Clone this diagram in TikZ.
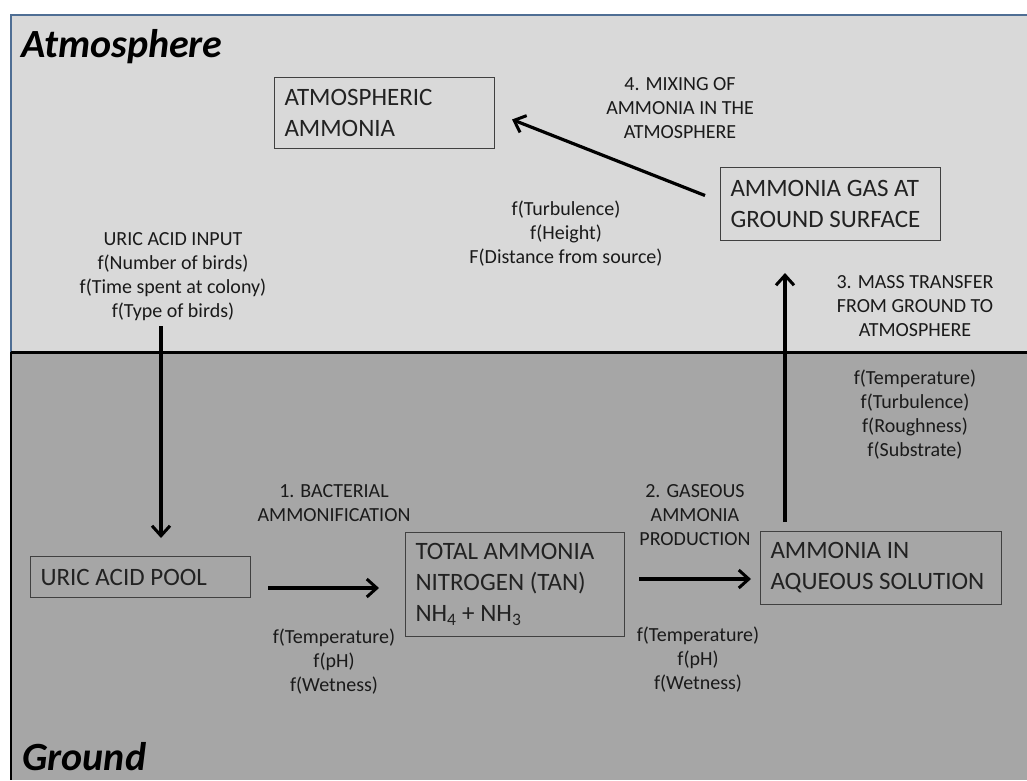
\documentclass[tikz,border=0pt]{standalone}
\usepackage{fontspec}
\setmainfont{Carlito}
\usetikzlibrary{arrows.meta,calc}
\definecolor{atmo}{HTML}{D9D9D9}
\definecolor{grnd}{HTML}{A6A6A6}
\definecolor{frameblue}{HTML}{4F6E94}
\definecolor{boxline}{HTML}{404040}
\definecolor{boxtxt}{HTML}{222222}
\definecolor{lbltxt}{HTML}{1A1A1A}
\begin{document}
\begin{tikzpicture}[x=1pt,y=-1pt,
  box/.style={draw=boxline, line width=1pt, anchor=north west, inner xsep=10pt, inner ysep=0pt,
    align=flush left, text=boxtxt, font=\fontsize{25}{31}\selectfont},
  lbl/.style={align=flush center, anchor=base, inner sep=0pt, text=lbltxt, font=\fontsize{20}{24}\selectfont},
  zone/.style={anchor=base west, inner sep=0pt, text=black, font=\fontsize{40}{48}\selectfont\bfseries\itshape},
  arr/.style={line width=3.2pt, -{Straight Barb[length=10pt,width=18pt,line width=3pt]}}]
\useasboundingbox (0,0) rectangle (1027,780);
\fill[white] (0,0) rectangle (1027,780);
\fill[atmo] (11,15) rectangle (1027,352);
\fill[grnd] (11,352) rectangle (1027,780);
\draw[frameblue, line width=2pt] (11,352) -- (11,15) -- (1027,15);
\draw[black, line width=2pt] (11,352) -- (11,780);
\draw[black, line width=3pt] (11,352) -- (1027,352);

\node[zone] (atmT) at (21,57) {Atmosphere};
\node[zone] (grT) at (22,770) {Ground};

\node[box, text width=200pt, minimum height=71pt] (atm) at (274,77) {ATMOSPHERIC\\AMMONIA};
\node[box, text width=200pt, minimum height=73pt] (gas) at (720,167) {AMMONIA GAS AT\\GROUND SURFACE};
\node[box, text width=200pt, minimum height=41pt] (pool) at (30,556) {URIC ACID POOL};
\node[box, text width=199pt, minimum height=104pt] (tan) at (405,532) {TOTAL AMMONIA\\NITROGEN (TAN)\\NH\textsubscript{4} + NH\textsubscript{3}};
\node[box, text width=221pt, minimum height=73pt] (aq) at (760,531) {AMMONIA IN\\AQUEOUS SOLUTION};

\node[lbl] (input) at (173,317) {URIC ACID INPUT\\f(Number of birds)\\f(Time spent at colony)\\f(Type of birds)};
\node[lbl] (mix) at (680,138) {4. MIXING OF\\AMMONIA IN THE\\ATMOSPHERE};
\node[lbl] (turb) at (566,263) {f(Turbulence)\\f(Height)\\F(Distance from source)};
\node[lbl] (mass) at (915,336) {3. MASS TRANSFER\\FROM GROUND TO\\ATMOSPHERE};
\node[lbl] (massf) at (915,456) {f(Temperature)\\f(Turbulence)\\f(Roughness)\\f(Substrate)};
\node[lbl] (bact) at (334,521) {1. BACTERIAL\\AMMONIFICATION};
\node[lbl] (bactf) at (334,691) {f(Temperature)\\f(pH)\\f(Wetness)};
\node[lbl] (gasp) at (695,545) {2. GASEOUS\\AMMONIA\\PRODUCTION};
\node[lbl] (gaspf) at (698,689) {f(Temperature)\\f(pH)\\f(Wetness)};

\coordinate (xin) at (161,0);
\coordinate (x3) at (785,0);
\coordinate (y1) at (0,588);
\coordinate (y2) at (0,579);

\draw[arr, shorten <=6pt, shorten >=18pt] (input.south -| xin) -- (pool.north -| xin);
\draw[arr, shorten <=17pt, shorten >=26pt] (pool.east |- y1) -- (tan.west |- y1);
\draw[arr, shorten <=14pt, shorten >=9pt] (tan.east |- y2) -- (aq.west |- y2);
\draw[arr, shorten <=9pt, shorten >=32pt] (aq.north -| x3) -- (gas.south -| x3);
\draw[arr] ($(gas.west)+(-15,-8.5)$) -- ($(atm.east)+(17,6.5)$);
\end{tikzpicture}
\end{document}
